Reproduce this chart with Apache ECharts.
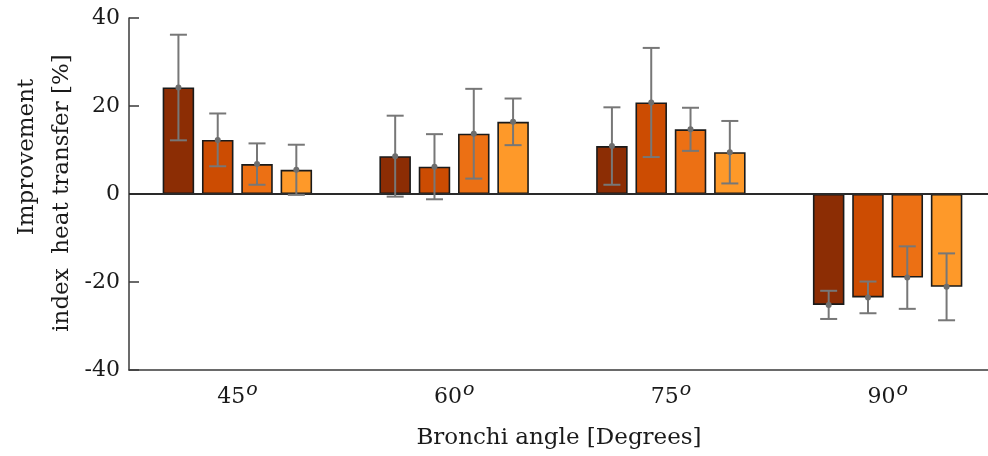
<!DOCTYPE html>
<html>
<head>
<meta charset="utf-8">
<script src="https://cdn.jsdelivr.net/npm/echarts@6/dist/echarts.min.js"></script>
<style>
  html, body { margin: 0; padding: 0; background: #ffffff; overflow: hidden; width: 988px; height: 456px; }
  #chart { width: 1000px; height: 456px; }
</style>
</head>
<body>
<div id="chart"></div>
<script>
// ---- Data ----
const categories = ['45', '60', '75', '90'];
const yTicks = [-40, -20, 0, 20, 40];

const mean1 = [24.2, 8.6, 10.9, -25.2];
const mean2 = [12.3, 6.2, 20.8, -23.5];
const mean3 = [6.8, 13.7, 14.7, -19.0];
const mean4 = [5.5, 16.4, 9.5, -21.1];

const err1 = [12.0, 9.2, 8.8, 3.2];
const err2 = [6.0, 7.4, 12.4, 3.6];
const err3 = [4.7, 10.2, 4.9, 7.1];
const err4 = [5.7, 5.3, 7.1, 7.6];

const xTitle = 'Bronchi angle [Degrees]';
const yTitle1 = 'Improvement';
const yTitle2 = 'index  heat transfer [%]';

// ---- Styling ----
const colors = ['#8c2d04', '#cc4c02', '#ec7014', '#fe9929'];
const FONT = 'DejaVu Serif';
const BAR_W = 31.5;
const BAR_GAP_PX = 7.8;

const means = [mean1, mean2, mean3, mean4];
const errs = [err1, err2, err3, err4];

const chart = echarts.init(document.getElementById('chart'), null, { renderer: 'canvas', width: 1000, height: 456 });

const barSeries = means.map((m, si) => ({
  type: 'bar',
  name: 'S' + (si + 1),
  data: m,
  barWidth: BAR_W,
  barGap: (BAR_GAP_PX / BAR_W * 100).toFixed(1) + '%',
  itemStyle: { color: colors[si], borderColor: '#1a1a1a', borderWidth: 1.6 },
  silent: true,
  z: 2
}));

// zero line
barSeries[0].markLine = {
  silent: true,
  symbol: ['none', 'none'],
  label: { show: false },
  lineStyle: { color: '#2a2a2a', width: 2.2, type: 'solid' },
  data: [{ yAxis: 0 }],
  z: 3
};

const errData = [];
means.forEach((m, si) => {
  m.forEach((v, ci) => errData.push([ci, v, errs[si][ci], si]));
});

const errSeries = {
  type: 'custom',
  data: errData,
  encode: { x: 0, y: 1 },
  z: 10,
  silent: true,
  renderItem: function (params, api) {
    const ci = api.value(0);
    const v = api.value(1);
    const e = api.value(2);
    const si = api.value(3);
    const off = (si - 1.5) * (BAR_W + BAR_GAP_PX);
    const c = api.coord([ci, v]);
    const t = api.coord([ci, v + e]);
    const b = api.coord([ci, v - e]);
    const x = c[0] + off;
    const cap = 8.5;
    const st = { stroke: '#777777', lineWidth: 2 };
    return {
      type: 'group',
      children: [
        { type: 'line', shape: { x1: x, y1: t[1], x2: x, y2: b[1] }, style: st },
        { type: 'line', shape: { x1: x - cap, y1: t[1], x2: x + cap, y2: t[1] }, style: st },
        { type: 'line', shape: { x1: x - cap, y1: b[1], x2: x + cap, y2: b[1] }, style: st },
        { type: 'circle', shape: { cx: x, cy: c[1], r: 3 }, style: { fill: '#6e6e6e' } }
      ]
    };
  }
};

const option = {
  backgroundColor: '#ffffff',
  animation: false,
  grid: { left: 129, top: 18, width: 867, height: 352, containLabel: false },
  xAxis: {
    type: 'category',
    data: categories,
    boundaryGap: true,
    axisLine: { onZero: false, lineStyle: { color: '#3a3a3a', width: 1.5 } },
    axisTick: { show: false },
    axisLabel: {
      margin: 11,
      formatter: function (val) { return '{n|' + val + '}{s|o}'; },
      rich: {
        n: { fontFamily: FONT, fontSize: 22, color: '#1a1a1a', lineHeight: 33 },
        s: { fontFamily: FONT, fontSize: 19, fontStyle: 'italic', color: '#1a1a1a', verticalAlign: 'top', padding: [0, 0, 0, 1] }
      }
    },
    splitLine: { show: false }
  },
  yAxis: {
    type: 'value',
    min: -40,
    max: 40,
    interval: 20,
    axisLine: { show: true, lineStyle: { color: '#3a3a3a', width: 1.5 } },
    axisTick: { show: true, inside: true, length: 10, lineStyle: { color: '#3a3a3a', width: 1.5 } },
    axisLabel: {
      margin: 9,
      fontFamily: FONT,
      fontSize: 22,
      color: '#1a1a1a',
      formatter: function (v) { return yTicks.indexOf(v) >= 0 ? String(v) : ''; }
    },
    splitLine: { show: false }
  },
  graphic: [
    {
      type: 'text', x: 559, y: 438,
      style: { text: xTitle, fontFamily: FONT, fontSize: 23, fill: '#1a1a1a', align: 'center', verticalAlign: 'middle' }
    },
    {
      type: 'text', x: 27, y: 157, rotation: Math.PI / 2,
      style: { text: yTitle1, fontFamily: FONT, fontSize: 23, fill: '#1a1a1a', align: 'center', verticalAlign: 'middle' }
    },
    {
      type: 'text', x: 62, y: 193, rotation: Math.PI / 2,
      style: { text: yTitle2, fontFamily: FONT, fontSize: 23, fill: '#1a1a1a', align: 'center', verticalAlign: 'middle' }
    }
  ],
  series: barSeries.concat([errSeries])
};

chart.setOption(option);
</script>
</body>
</html>
